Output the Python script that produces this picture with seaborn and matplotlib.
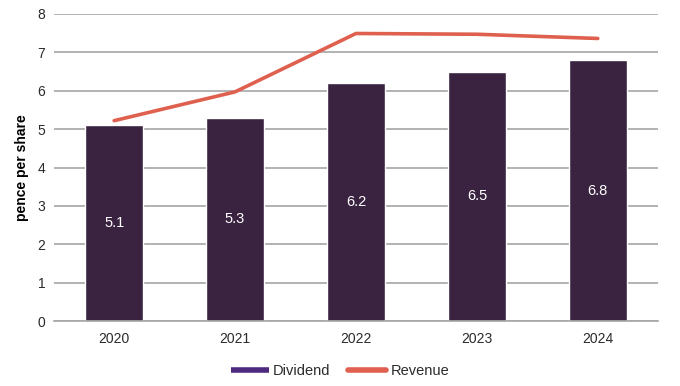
import numpy as np
import matplotlib
matplotlib.use("Agg")
import matplotlib.pyplot as plt
import seaborn as sns
from matplotlib.lines import Line2D

# data
years = ["2020", "2021", "2022", "2023", "2024"]
dividend = [5.1, 5.3, 6.2, 6.5, 6.8]
revenue = [5.22, 5.97, 7.49, 7.47, 7.36]

bar_color = "#3a2340"
legend_bar_color = "#4e2a7e"
line_color = "#e0604f"
grid_color = "#a6a6a6"

sns.set_style("white")
plt.rcParams['font.family'] = ['Liberation Sans', 'DejaVu Sans']

fig = plt.figure(figsize=(6.8, 3.86), dpi=100)
ax = fig.add_axes([0.079, 0.168, 0.889, 0.796])

sns.barplot(x=years, y=dividend, color=bar_color, width=0.48,
            saturation=1, ax=ax, zorder=2)
pos = np.arange(len(years))
sns.lineplot(x=pos, y=revenue, color=line_color, linewidth=2.6,
             ax=ax, zorder=3)

# value labels inside the bars
ax.bar_label(ax.containers[0], labels=[f"{v:.1f}" for v in dividend],
             label_type='center', color='white', fontsize=10.5)

ax.set_ylim(0, 8)
ax.set_xlim(-0.5, len(years) - 0.5)
ax.set_yticks(range(0, 9))
ax.yaxis.grid(True, color=grid_color, linewidth=1.2, zorder=0)
ax.set_axisbelow(True)

ax.set_xticks(pos)
ax.set_xticklabels(years)
ax.set_xticks(pos[:-1] + 0.5, minor=True)
ax.tick_params(axis='x', which='major', length=0, pad=8, labelsize=10,
               colors='#2b2b2b')
ax.tick_params(axis='x', which='minor', length=4, color=grid_color,
               width=1.2, direction='out')
ax.tick_params(axis='y', length=0, pad=6, labelsize=10, colors='#2b2b2b')

for side in ['top', 'right', 'left']:
    ax.spines[side].set_visible(False)
ax.spines['bottom'].set_color(grid_color)
ax.spines['bottom'].set_linewidth(1.2)

ax.set_ylabel("pence per share", fontsize=10, fontweight='bold',
              color='black', labelpad=6)
ax.set_xlabel("")

handles = [Line2D([0], [0], color=legend_bar_color, linewidth=4,
                  solid_capstyle='butt'),
           Line2D([0], [0], color=line_color, linewidth=4,
                  solid_capstyle='round')]
fig.legend(handles, ["Dividend", "Revenue"], loc='center',
           bbox_to_anchor=(0.5, 0.038), ncol=2, frameon=False,
           fontsize=10.5, handlelength=2.6, handletextpad=0.3,
           columnspacing=1.2, labelcolor='#2b2b2b')

fig.savefig("out.png", dpi=100)
